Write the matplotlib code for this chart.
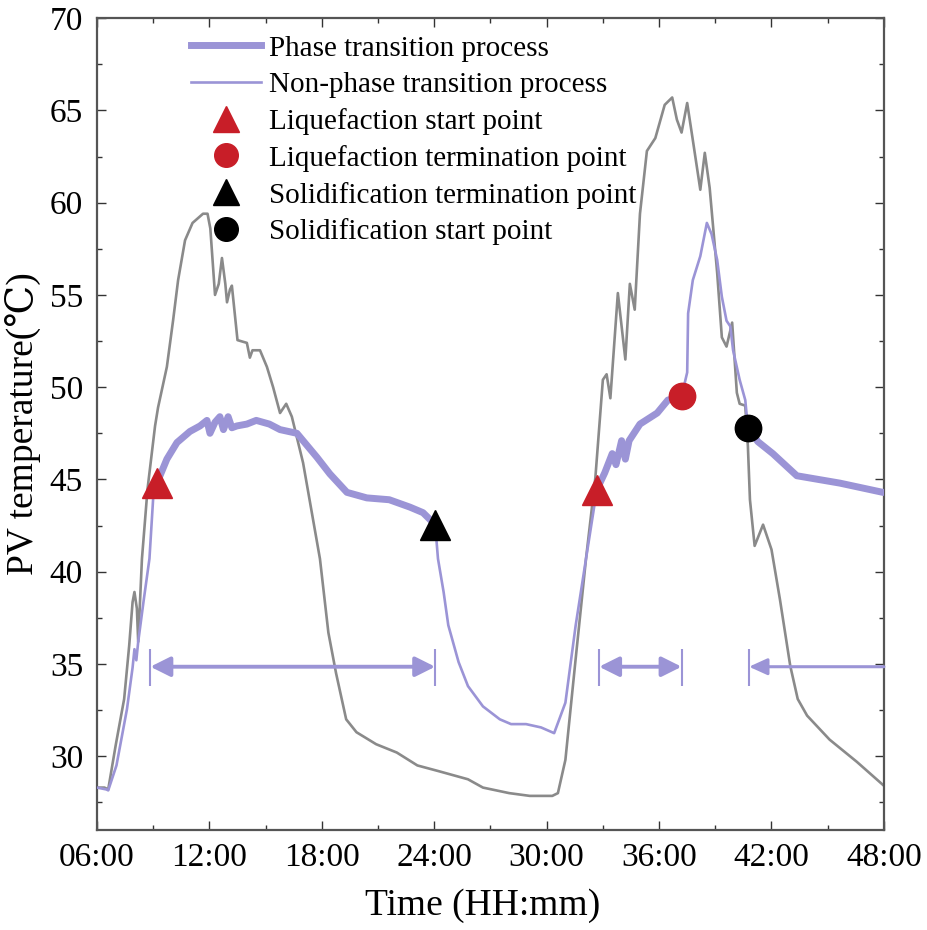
import matplotlib
matplotlib.use("Agg")
import matplotlib.pyplot as plt
from matplotlib.lines import Line2D
from matplotlib.ticker import MultipleLocator, FixedLocator, FixedFormatter

plt.rcParams['font.family'] = ['Liberation Serif', 'DejaVu Serif']
plt.rcParams['mathtext.fontset'] = 'stix'

PURPLE = '#9b94d6'
GRAY = '#8a8a8a'
RED = '#c81e28'

# reference PV (gray curve), hours / degC
gray_t = [6.0, 6.4, 6.6, 7.0, 7.45, 7.72, 7.9, 8.0, 8.13, 8.2, 8.4, 8.7, 9.1, 9.26,
          9.73, 10.06, 10.33, 10.7, 11.1, 11.66, 11.9, 12.05, 12.3, 12.5, 12.67, 12.85,
          12.94, 13.1, 13.2, 13.5, 14.0, 14.16, 14.3, 14.7, 15.07, 15.4, 15.77, 16.1,
          16.4, 17.0, 17.9, 18.35, 18.76, 19.3, 19.85, 20.9, 22.0, 23.1, 24.2, 25.8,
          26.6, 28.0, 29.1, 30.3, 30.6, 31.0, 31.55, 32.1, 32.6, 33.0, 33.2, 33.4,
          33.8, 34.2, 34.44, 34.7, 34.98, 35.35, 35.8, 36.3, 36.7, 36.95, 37.2, 37.5,
          37.8, 38.2, 38.44, 38.7, 39.1, 39.35, 39.6, 39.9, 40.15, 40.3, 40.6, 40.74,
          40.85, 41.1, 41.55, 42.0, 42.45, 43.0, 43.4, 43.9, 45.1, 46.55, 48.0]
gray_T = [28.3, 28.3, 28.2, 30.6, 33.1, 36.0, 38.35, 38.9, 38.0, 36.2, 40.7, 44.5, 47.9, 48.9,
          51.1, 53.6, 55.8, 57.96, 58.9, 59.4, 59.4, 58.6, 55.0, 55.6, 57.0, 55.6,
          54.6, 55.3, 55.5, 52.55, 52.4, 51.6, 52.0, 52.0, 51.1, 50.0, 48.6, 49.1,
          48.4, 45.9, 40.7, 36.7, 34.5, 32.0, 31.3, 30.65, 30.2, 29.5, 29.2, 28.75,
          28.3, 28.0, 27.85, 27.85, 28.0, 29.8, 35.3, 40.7, 45.1, 50.4, 50.7, 49.4,
          55.1, 51.5, 55.6, 54.2, 59.4, 62.8, 63.5, 65.3, 65.7, 64.5, 63.8, 65.4,
          63.4, 60.7, 62.7, 60.8, 56.2, 52.7, 52.2, 53.5, 49.7, 49.1, 49.0, 46.8,
          43.9, 41.4, 42.55, 41.2, 38.5, 34.9, 33.1, 32.2, 30.9, 29.7, 28.4]

# PV with PCM: thin = non-phase transition, thick = phase transition
thin1_t = [6.0, 6.5, 6.6, 7.04, 7.6, 7.9, 8.0, 8.1, 8.2, 8.5, 8.8, 9.0, 9.2]
thin1_T = [28.3, 28.2, 28.15, 29.5, 32.55, 34.8, 35.8, 35.2, 36.2, 38.5, 40.7, 44.0, 44.8]

thick1_t = [9.2, 9.73, 10.27, 10.96, 11.5, 11.87, 12.03, 12.3, 12.56, 12.75, 13.0, 13.2,
            13.47, 14.0, 14.5, 15.2, 15.77, 16.67, 17.74, 18.43, 19.34, 20.4, 21.6,
            22.7, 23.4, 24.05]
thick1_T = [44.8, 46.1, 47.0, 47.6, 47.9, 48.2, 47.5, 48.1, 48.4, 47.7, 48.4, 47.8,
            47.9, 48.0, 48.2, 48.0, 47.7, 47.5, 46.2, 45.3, 44.3, 44.0, 43.9,
            43.5, 43.2, 42.55]

thin2_t = [24.05, 24.2, 24.5, 24.75, 25.3, 25.8, 26.6, 27.5, 28.1, 28.9, 29.7, 30.4,
           31.0, 31.55, 32.1, 32.68]
thin2_T = [42.55, 40.7, 38.9, 37.1, 35.1, 33.8, 32.7, 32.0, 31.74, 31.74, 31.56, 31.25,
           32.9, 37.1, 40.7, 44.45]

thick2_t = [32.68, 33.1, 33.5, 33.7, 34.0, 34.2, 34.4, 34.98, 35.9, 36.47, 37.2]
thick2_T = [44.45, 45.36, 46.4, 45.8, 47.1, 46.1, 47.1, 48.0, 48.6, 49.3, 49.5]

thin3_t = [37.2, 37.5, 37.55, 37.8, 38.2, 38.55, 38.8, 39.1, 39.35, 39.6, 39.8, 39.95,
           40.3, 40.6, 40.74]
thin3_T = [49.5, 50.8, 54.0, 55.8, 57.1, 58.9, 58.3, 56.9, 54.9, 53.6, 53.3, 52.0,
           50.4, 49.3, 47.8]

thick3_t = [40.74, 41.27, 42.07, 43.35, 45.65, 47.94, 48.0]
thick3_T = [47.8, 47.05, 46.4, 45.2, 44.8, 44.3, 44.3]

# key points
liq_start = ([9.2, 32.68], [44.8, 44.45])
liq_end = ([37.2], [49.5])
sol_end = ([24.05], [42.55])
sol_start = ([40.74], [47.8])

# phase-transition duration arrows
arrow_y = 34.85
arrow_spans = [(8.85, 24.05), (32.8, 37.2)]
open_arrow_start = 40.8

xticks = [6, 12, 18, 24, 30, 36, 42, 48]
xticklabels = ['06:00', '12:00', '18:00', '24:00', '30:00', '36:00', '42:00', '48:00']

fig = plt.figure(figsize=(9.28, 9.30), dpi=100)
ax = fig.add_axes([0.1045, 0.1075, 0.848, 0.873])

ax.plot(gray_t, gray_T, color=GRAY, lw=1.9, zorder=2)
for t, T in [(thin1_t, thin1_T), (thin2_t, thin2_T), (thin3_t, thin3_T)]:
    ax.plot(t, T, color=PURPLE, lw=1.9, zorder=3)
for t, T in [(thick1_t, thick1_T), (thick2_t, thick2_T), (thick3_t, thick3_T)]:
    ax.plot(t, T, color=PURPLE, lw=5, zorder=3, solid_capstyle='round')

ax.plot(*liq_start, '^', color=RED, ms=21, ls='none', zorder=5)
ax.plot(*liq_end, 'o', color=RED, ms=19, ls='none', zorder=5)
ax.plot(*sol_end, '^', color='black', ms=21, ls='none', zorder=5)
ax.plot(*sol_start, 'o', color='black', ms=19, ls='none', zorder=5)

for a, b in arrow_spans:
    ax.annotate('', xy=(b, arrow_y), xytext=(a, arrow_y),
                arrowprops=dict(arrowstyle='<|-|>,head_length=0.6,head_width=0.3',
                                color=PURPLE, lw=2.8, shrinkA=0, shrinkB=0,
                                mutation_scale=20))
    ax.vlines([a, b], 33.8, 35.8, color=PURPLE, lw=1.5)
ax.annotate('', xy=(open_arrow_start, arrow_y), xytext=(48, arrow_y),
            arrowprops=dict(arrowstyle='-|>,head_length=0.55,head_width=0.25',
                            color=PURPLE, lw=2.2, shrinkA=0, shrinkB=0,
                            mutation_scale=20))
ax.vlines([open_arrow_start], 33.8, 35.8, color=PURPLE, lw=1.5)

ax.set_xlim(6, 48)
ax.set_ylim(26, 70)
ax.xaxis.set_major_locator(FixedLocator(xticks))
ax.xaxis.set_major_formatter(FixedFormatter(xticklabels))
ax.xaxis.set_minor_locator(MultipleLocator(3))
ax.yaxis.set_major_locator(MultipleLocator(5))
ax.yaxis.set_minor_locator(MultipleLocator(2.5))
ax.tick_params(which='both', direction='in', top=True, right=True, width=1.0,
               color='#333333', labelsize=24)
ax.tick_params(which='major', length=6.5)
ax.tick_params(which='minor', length=3.6)
ax.tick_params(axis='y', pad=10)
ax.tick_params(axis='x', pad=9)
for sp in ax.spines.values():
    sp.set_linewidth(1.6)
    sp.set_color('#555555')

ax.set_xlabel('Time (HH:mm)', fontsize=27, labelpad=4)
ax.xaxis.set_label_coords(0.49, -0.072)
ax.set_ylabel('PV temperature(\u2103)', fontsize=27, labelpad=6)

handles = [
    Line2D([], [], color=PURPLE, lw=5),
    Line2D([], [], color=PURPLE, lw=1.9),
    Line2D([], [], marker='^', color=RED, ms=19, ls='none'),
    Line2D([], [], marker='o', color=RED, ms=17, ls='none'),
    Line2D([], [], marker='^', color='black', ms=19, ls='none'),
    Line2D([], [], marker='o', color='black', ms=17, ls='none'),
]
labels = ['Phase transition process', 'Non-phase transition process',
          'Liquefaction start point', 'Liquefaction termination point',
          'Solidification termination point', 'Solidification start point']
ax.legend(handles, labels, loc='upper left', bbox_to_anchor=(0.12, 0.979),
          frameon=False, fontsize=21, handlelength=2.4, handletextpad=0.25,
          labelspacing=0.34, borderaxespad=0, borderpad=0)

fig.savefig('out.png', dpi=100)
